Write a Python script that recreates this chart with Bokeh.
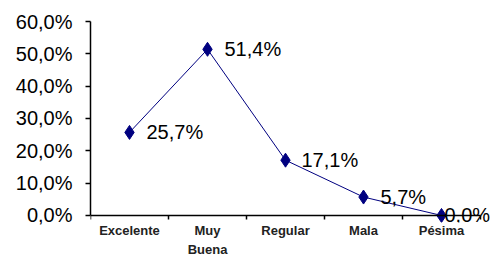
from bokeh.plotting import figure
from bokeh.models import ColumnDataSource, LabelSet, FixedTicker, Range1d, LinearAxis
from bokeh.core.properties import value
from bokeh.embed import file_html
from bokeh.resources import INLINE

categories = ["Excelente", "Muy\nBuena", "Regular", "Mala", "Pésima"]
values = [0.257, 0.514, 0.171, 0.057, 0.0]
y_ticks = [0.0, 0.1, 0.2, 0.3, 0.4, 0.5, 0.6]
y_tick_labels = ["0,0%", "10,0%", "20,0%", "30,0%", "40,0%", "50,0%", "60,0%"]

# label offsets (style): last label pushed left as in the original
label_x_offsets = [17, 17, 16, 17, 3]

xs = [i + 0.5 for i in range(len(categories))]
labels = [("%.1f%%" % (v * 100)).replace(".", ",") for v in values]

src = ColumnDataSource(dict(x=xs, y=values, label=labels, xoff=label_x_offsets))

n = len(categories)
p = figure(width=493, height=266, output_backend="svg", toolbar_location=None,
           x_range=Range1d(0, n * 403 / 390), y_range=Range1d(-0.0217, 0.6),
           min_border_left=90, min_border_right=0, min_border_top=21, min_border_bottom=44)
p.outline_line_color = None
p.grid.visible = False
p.background_fill_color = "white"
p.border_fill_color = "white"

p.line("x", "y", source=src, line_color="#000080", line_width=1)
p.scatter("x", "y", source=src, marker="diamond", size=14, fill_color="#000080", line_color="#000080")

lab = LabelSet(x="x", y="y", text="label", source=src, x_offset="xoff", y_offset=0,
               text_baseline="middle", text_align="left", text_font=value("Liberation Sans"),
               text_font_size="20px", text_color="black")
p.add_layout(lab)

# y axis
p.yaxis.ticker = FixedTicker(ticks=y_ticks, minor_ticks=[])
p.yaxis.bounds = (0, 0.6)
p.yaxis.major_label_overrides = {t: l for t, l in zip(y_ticks, y_tick_labels)}
p.yaxis.major_label_text_font = "Liberation Sans"
p.yaxis.major_label_text_font_size = "20px"
p.yaxis.major_label_text_color = "black"
p.yaxis.major_tick_out = 5
p.yaxis.major_tick_in = 0
p.yaxis.major_label_standoff = 13
p.yaxis.axis_line_color = "black"
p.yaxis.axis_line_width = 1.5
p.yaxis.major_tick_line_width = 1.5

# bottom axis: category labels only
p.xaxis.ticker = FixedTicker(ticks=xs, minor_ticks=[])
p.xaxis.major_label_overrides = {x: c for x, c in zip(xs, categories)}
p.xaxis.axis_line_color = None
p.xaxis.major_tick_line_color = None
p.xaxis.minor_tick_line_color = None
p.xaxis.major_tick_out = 0
p.xaxis.major_tick_in = 0
p.xaxis.major_label_text_font = "Liberation Sans"
p.xaxis.major_label_text_font_style = "bold"
p.xaxis.major_label_text_font_size = "13px"
p.xaxis.major_label_text_line_height = 1.3
p.xaxis.major_label_text_color = "#222222"
p.xaxis.major_label_standoff = 0

# axis line at y=0 with ticks between categories
base = LinearAxis(fixed_location=0, bounds=(0, n),
                  ticker=FixedTicker(ticks=[], minor_ticks=list(range(n + 1))),
                  axis_line_color="black", axis_line_width=1.5,
                  major_tick_line_color=None, major_label_text_color=None,
                  minor_tick_in=4, minor_tick_out=0,
                  minor_tick_line_color="black", minor_tick_line_width=1.5)
p.add_layout(base, "above")

open("out.html", "w").write(file_html(p, INLINE))
